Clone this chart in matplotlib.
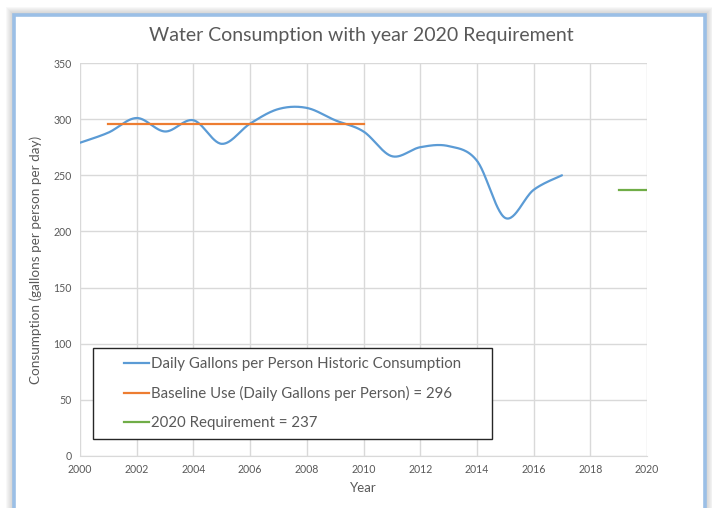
import numpy as np
import matplotlib
matplotlib.use("Agg")
import matplotlib.pyplot as plt
from matplotlib.patches import Rectangle
from matplotlib.lines import Line2D
from matplotlib.legend_handler import HandlerLine2D

plt.rcParams['font.family'] = ['Lato', 'DejaVu Sans']

# Annual daily consumption per person (gallons)
years = [2000, 2001, 2002, 2003, 2004, 2005, 2006, 2007, 2008, 2009,
         2010, 2011, 2012, 2013, 2014, 2015, 2016, 2017]
consumption = [279, 288, 301, 289, 299, 278, 296, 309, 310, 299,
               289, 267, 275, 276, 263, 212, 237, 250]

baseline_years = [2001, 2010]
baseline_value = 296
requirement_years = [2019, 2020]
requirement_value = 237

series_labels = ["Daily Gallons per Person Historic Consumption",
                 "Baseline Use (Daily Gallons per Person) = 296",
                 "2020 Requirement = 237"]
x_ticks = list(range(2000, 2021, 2))
y_ticks = list(range(0, 351, 50))

BLUE = "#5b9bd5"
ORANGE = "#ed7d31"
GREEN = "#70ad47"
TEXT = "#595959"
GRID = "#d9d9d9"


def smooth_curve(xs, ys, steps=30):
    """Bezier smoothing through every point (Catmull-Rom style control points)."""
    p = np.column_stack([xs, ys]).astype(float)
    n = len(p)
    out = []
    for i in range(n - 1):
        p0 = p[max(i - 1, 0)]
        p1 = p[i]
        p2 = p[i + 1]
        p3 = p[min(i + 2, n - 1)]
        c1 = p1 + (p2 - p0) / 6.0
        c2 = p2 - (p3 - p1) / 6.0
        t = np.linspace(0, 1, steps, endpoint=(i == n - 2))[:, None]
        seg = ((1 - t) ** 3) * p1 + 3 * ((1 - t) ** 2) * t * c1 \
            + 3 * (1 - t) * (t ** 2) * c2 + (t ** 3) * p2
        out.append(seg)
    out = np.vstack(out)
    return out[:, 0], out[:, 1]


class IndentedLineHandler(HandlerLine2D):
    """Legend key drawn only on the right part of the handle box."""

    def __init__(self, frac=0.55, **kw):
        super().__init__(**kw)
        self.frac = frac

    def create_artists(self, legend, orig_handle, xdescent, ydescent,
                       width, height, fontsize, trans):
        x0 = -xdescent + width * (1 - self.frac)
        x1 = -xdescent + width
        y = -ydescent + height / 2.0
        line = Line2D([x0, x1], [y, y], color=orig_handle.get_color(),
                      linewidth=orig_handle.get_linewidth())
        line.set_transform(trans)
        return [line]


W, H = 712, 508
fig = plt.figure(figsize=(W / 100, H / 100), dpi=100)
fig.patch.set_facecolor("white")

# soft shadow and blue frame around the chart area
fx0, fy0, fx1 = 14, 15, 705
for k in range(7):
    g = 8 - k
    fig.patches.append(Rectangle(((fx0 - g) / W, -0.1), (fx1 - fx0 + 2 * g) / W,
                                 (H - fy0 + g) / H + 0.1,
                                 transform=fig.transFigure, facecolor="#7f7f7f",
                                 edgecolor="none", alpha=0.05, zorder=0))
fig.patches.append(Rectangle((fx0 / W, -0.1), (fx1 - fx0) / W, (H - fy0) / H + 0.1,
                             transform=fig.transFigure, facecolor="white",
                             edgecolor="#9bbfe6", linewidth=2.6, zorder=1))

ax = fig.add_axes([80 / W, (H - 456) / H, 567 / W, 393 / H])
ax.set_facecolor("none")
ax.set_zorder(2)

sx, sy = smooth_curve(years, consumption)
h1, = ax.plot(sx, sy, color=BLUE, linewidth=1.6, label=series_labels[0],
              solid_capstyle="round")
h2, = ax.plot(baseline_years, [baseline_value] * 2, color=ORANGE, linewidth=1.6,
              label=series_labels[1])
h3, = ax.plot(requirement_years, [requirement_value] * 2, color=GREEN,
              linewidth=1.6, label=series_labels[2])

ax.set_xlim(2000, 2020)
ax.set_ylim(0, 350)
ax.set_xticks(x_ticks)
ax.set_yticks(y_ticks)
ax.grid(True, color=GRID, linewidth=1.0)
ax.set_axisbelow(True)
for side in ["top", "right", "left"]:
    ax.spines[side].set_visible(False)
ax.spines["bottom"].set_color(GRID)
ax.tick_params(length=0, labelsize=7.6, labelcolor=TEXT, pad=6)

ax.set_xlabel("Year", fontsize=9.5, color=TEXT, labelpad=5)
ax.set_ylabel("Consumption (gallons per person per day)", fontsize=9.7,
              color=TEXT, labelpad=8)
fig.text(361 / W, 1 - 35 / H, "Water Consumption with year 2020 Requirement",
         ha="center", va="center", fontsize=14, color=TEXT)

handler = IndentedLineHandler(frac=0.54)
leg = ax.legend(handles=[h1, h2, h3],
                loc="upper left", bbox_to_anchor=(0.0229, 0.0483, 0.7037, 0.2265),
                mode="expand", borderaxespad=0, fontsize=10.8, labelcolor=TEXT,
                handlelength=3.15, handletextpad=0.12, labelspacing=1.0,
                borderpad=0.6, fancybox=False, framealpha=1,
                handler_map={h1: handler, h2: handler, h3: handler})
leg.get_frame().set_edgecolor("#262626")
leg.get_frame().set_linewidth(1.0)

fig.savefig("out.png", dpi=100)
